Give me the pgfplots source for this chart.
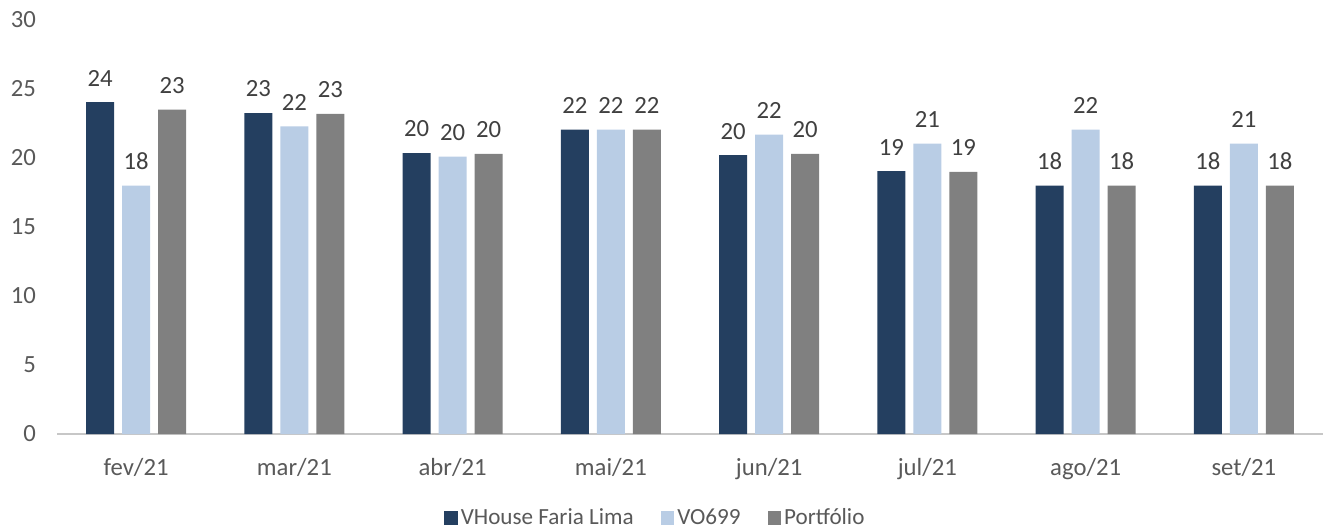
\documentclass[border=0pt]{standalone}
\usepackage{pgfplots}
\pgfplotsset{compat=1.18}
\usetikzlibrary{calc}
\usepackage{fontspec}
\setmainfont{Carlito}
\definecolor{navy}{RGB}{36,63,96}
\definecolor{lightblue}{RGB}{185,205,229}
\definecolor{midgray}{RGB}{128,128,128}
\definecolor{txt}{RGB}{64,64,64}
\definecolor{tick}{RGB}{89,89,89}

\begin{document}
\begin{tikzpicture}[x=1bp,y=1bp]
\begin{axis}[
    scale only axis,
    width=633bp, height=207bp,
    xmin=-0.5, xmax=7.5, ymin=0, ymax=30,
    ytick={0,5,...,30},
    xtick={0,...,7},
    xticklabels={fev/21,mar/21,abr/21,mai/21,jun/21,jul/21,ago/21,set/21},
    axis lines*=left,
    y axis line style={draw=none},
    x axis line style={draw=black!22, line width=0.6pt},
    tick style={draw=none},
    font=\fontsize{12.4}{14}\selectfont,
    tick label style={text=tick},
    yticklabel style={xshift=-7bp},
    xticklabel style={yshift=-4.5bp},
    /pgf/number format/assume math mode=true,
    ybar, bar width=0.177,
    point meta=explicit symbolic,
    nodes near coords,
    nodes near coords style={text=txt, font=\fontsize{12.4}{14}\selectfont, yshift=4.5bp},
    legend style={at={(0.473,-0.203)}, anchor=center, draw=none, legend columns=-1,
        font=\fontsize{11.6}{13}\selectfont, text=tick,
        nodes={inner xsep=1.5bp},
        /tikz/every even column/.append style={column sep=12bp}},
    legend image code/.code={\fill[#1] (0bp,-3.4bp) rectangle (6.8bp,3.4bp);},
]
\addplot[fill=navy, draw=none, bar shift=-0.228] coordinates {
  (0,24.05)[24] (1,23.25)[23] (2,20.35)[20] (3,22.05)[22]
  (4,20.2)[20] (5,19.05)[19] (6,18.0)[18] (7,18.0)[18]};
\addlegendentry{VHouse Faria Lima}
\addplot[fill=lightblue, draw=none, bar shift=0] coordinates {
  (0,18.0)[18] (1,22.3)[22] (2,20.1)[20] (3,22.05)[22]
  (4,21.7)[22] (5,21.05)[21] (6,22.05)[22] (7,21.05)[21]};
\addlegendentry{VO699}
\addplot[fill=midgray, draw=none, bar shift=0.228] coordinates {
  (0,23.5)[23] (1,23.2)[23] (2,20.3)[20] (3,22.05)[22]
  (4,20.3)[20] (5,19.0)[19] (6,18.0)[18] (7,18.0)[18]};
\addlegendentry{Portfólio}
\coordinate (O) at (rel axis cs:0,0);
\coordinate (T) at (rel axis cs:1,1);
\end{axis}
\pgfresetboundingbox
\useasboundingbox ($(O)+(-28.5bp,-48.5bp)$) rectangle ($(T)+(0,10bp)$);
\end{tikzpicture}
\end{document}
